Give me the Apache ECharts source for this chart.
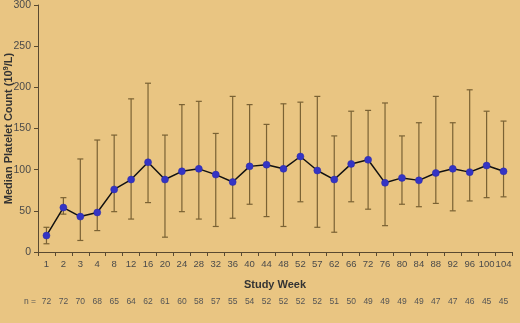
<!DOCTYPE html>
<html><head><meta charset="utf-8">
<script src="https://cdn.jsdelivr.net/npm/echarts@6/dist/echarts.min.js"></script>
<style>html,body{margin:0;padding:0;background:#E9C582;}#c{width:520px;height:323px;}</style>
</head><body><div id="c"></div>
<script>
const weeks = ['1','2','3','4','8','12','16','20','24','28','32','36','40','44','48','52','57','62','66','72','76','80','84','88','92','96','100','104'];
const medians = [20,54,43,48,76,88,109,88,98,101,94,85,104,106,101,116,99,88,107,112,84,90,87,96,101,97,105,98];
const lows = [10,46,14,26,49,40,60,18,49,40,31,41,58,43,31,61,30,24,61,52,32,58,55,59,50,62,66,67];
const highs = [30,66,113,136,142,186,205,142,179,183,144,189,179,155,180,182,189,141,171,172,181,141,157,189,157,197,171,159];
const nCounts = ['72','72','70','68','65','64','62','61','60','58','57','55','54','52','52','52','52','51','50','49','49','49','49','47','47','46','45','45'];
const yTicks = [0,50,100,150,200,250,300];

const errData = weeks.map((w,i)=>[i, lows[i], highs[i]]);
const chart = echarts.init(document.getElementById('c'));
const font = 'Liberation Sans, Arial, sans-serif';
chart.setOption({
  backgroundColor:'#E9C582',
  animation:false,
  textStyle:{fontFamily:font},
  grid:{left:38,right:8,top:5,bottom:71,containLabel:false,outerBoundsMode:'none'},
  xAxis:[{
    type:'category', data:weeks, boundaryGap:true, position:'bottom',
    axisLine:{lineStyle:{color:'#5a4a30',width:1}},
    axisTick:{show:true,alignWithLabel:false,length:4,lineStyle:{color:'#5a4a30'}},
    axisLabel:{color:'#4a4a4a',fontSize:9.5,margin:7,interval:0},
    name:'Study Week', nameLocation:'middle', nameGap:27, nameMoveOverlap:false,
    nameTextStyle:{color:'#333',fontSize:11,fontWeight:'bold'}
  },{
    type:'category', data:nCounts, position:'bottom', offset:41, boundaryGap:true,
    axisLine:{show:false}, axisTick:{show:false},
    axisLabel:{color:'#555',fontSize:8.5,interval:0,margin:4},
    name:'n =', nameLocation:'start', nameGap:2, nameMoveOverlap:false,
    nameTextStyle:{color:'#555',fontSize:8.5,verticalAlign:'top',padding:[4,0,0,0]}
  }],
  yAxis:{
    type:'value', min:0, max:300, interval:50,
    axisLine:{show:true,lineStyle:{color:'#5a4a30',width:1}},
    axisTick:{show:true,length:4,lineStyle:{color:'#5a4a30'}},
    splitLine:{show:false},
    axisLabel:{color:'#4a4a4a',fontSize:10.5,margin:7,
      customValues:yTicks},
    name:'{a|Median Platelet Count (10}{s|9}{a|/L)}', nameLocation:'middle', nameGap:22, nameMoveOverlap:false,
    nameTextStyle:{rich:{a:{fontSize:11,fontWeight:'bold',color:'#333',fontFamily:font},
                         s:{fontSize:7.5,fontWeight:'bold',color:'#333',verticalAlign:'top',padding:[0,0,6,0],fontFamily:font}}}
  },
  series:[{
    type:'custom', xAxisIndex:0,
    renderItem:function(params, api){
      const x = api.coord([api.value(0), 0])[0];
      const lo = api.coord([api.value(0), api.value(1)])[1];
      const hi = api.coord([api.value(0), api.value(2)])[1];
      const w = 3;
      const st = {stroke:'#7a6234', lineWidth:1.2};
      return {type:'group', children:[
        {type:'line', shape:{x1:x,y1:lo,x2:x,y2:hi}, style:st},
        {type:'line', shape:{x1:x-w,y1:lo,x2:x+w,y2:lo}, style:st},
        {type:'line', shape:{x1:x-w,y1:hi,x2:x+w,y2:hi}, style:st}
      ]};
    },
    encode:{x:0,y:[1,2]},
    data:errData, z:1
  },{
    type:'line', xAxisIndex:0, data:medians, z:3,
    symbol:'circle', symbolSize:7,
    lineStyle:{color:'#111',width:1.5},
    itemStyle:{color:'#3434c4',borderColor:'#2a2aa8',borderWidth:0.5}
  }]
});
</script></body></html>
